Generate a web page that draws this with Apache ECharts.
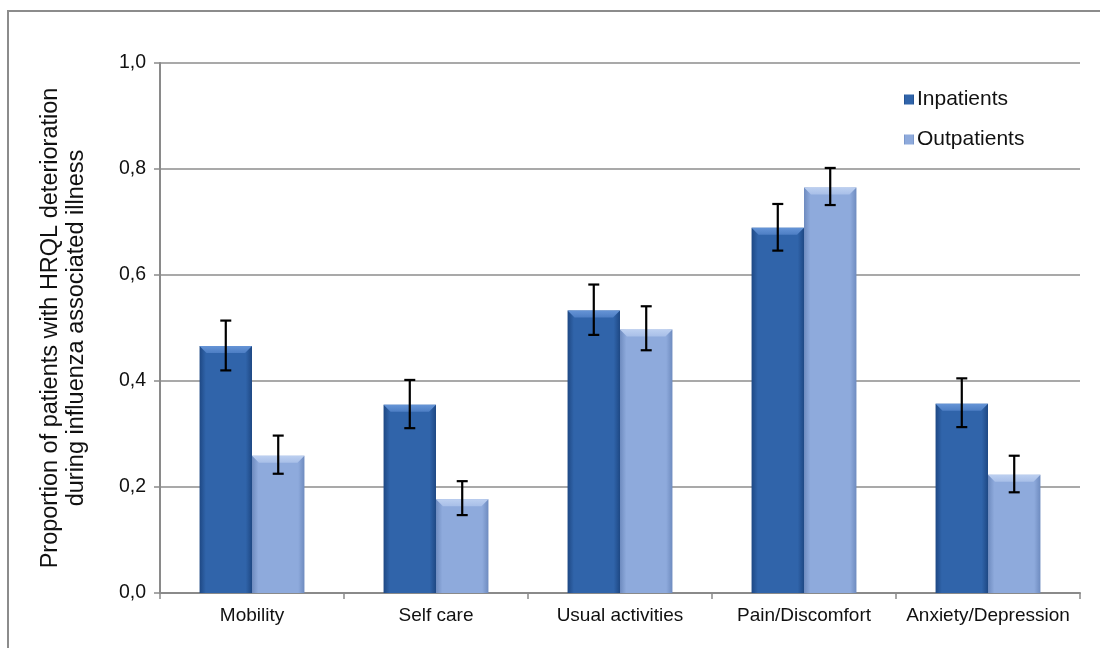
<!DOCTYPE html>
<html>
<head>
<meta charset="utf-8">
<script src="https://cdn.jsdelivr.net/npm/echarts@6/dist/echarts.min.js"></script>
<style>
  html, body { margin: 0; padding: 0; background: #fff; }
  #chart { width: 1100px; height: 648px; }
</style>
</head>
<body>
<div id="chart"></div>
<script>
// EQ-5D dimensions
const categories = ['Mobility', 'Self care', 'Usual activities', 'Pain/Discomfort', 'Anxiety/Depression'];

// Proportions with 95% confidence limits
const inpatients     = [0.466, 0.355, 0.533, 0.689, 0.357];
const inpatientsLow  = [0.420, 0.311, 0.487, 0.646, 0.313];
const inpatientsHigh = [0.514, 0.402, 0.582, 0.734, 0.405];

const outpatients     = [0.259, 0.177, 0.497, 0.765, 0.223];
const outpatientsLow  = [0.225, 0.147, 0.458, 0.732, 0.190];
const outpatientsHigh = [0.297, 0.211, 0.541, 0.802, 0.259];

const yTicks = [0, 0.2, 0.4, 0.6, 0.8, 1.0];

const FONT = '"Liberation Sans", Arial, sans-serif';
const BAR_FRAC = 0.285; // each bar's share of the category band

const palette = {
  Inpatients:  { edge: '#1e4884', mid: '#3064aa', light: '#6594d6', top: '#4d7ec4' },
  Outpatients: { edge: '#6e8bbf', mid: '#8eaadc', light: '#bccff0', top: '#a8bfe8' }
};

function barGradient(p) {
  return new echarts.graphic.LinearGradient(0, 0, 1, 0, [
    { offset: 0, color: p.edge },
    { offset: 0.12, color: p.mid },
    { offset: 0.88, color: p.mid },
    { offset: 1, color: p.edge }
  ]);
}

// Bevel on top of each bar plus its error bar
function overlayRenderer(values, lows, highs, side, p) {
  return function (params, api) {
    const i = api.value(0);
    const v = values[i];
    const centre = api.coord([i, 0]);
    const top = api.coord([i, v]);
    const band = api.size([1, 0])[0];
    const w = band * BAR_FRAC;
    const x0 = side < 0 ? centre[0] - w : centre[0];
    const x1 = x0 + w;
    const yTop = top[1];
    const b = 7;
    const lo = api.coord([i, lows[i]])[1];
    const hi = api.coord([i, highs[i]])[1];
    const xm = (x0 + x1) / 2;
    const cap = 5.5;
    const errStyle = { stroke: '#000', lineWidth: 2.2 };
    return {
      type: 'group',
      children: [
        {
          type: 'polygon',
          shape: { points: [[x0, yTop], [x1, yTop], [x1 - b, yTop + b], [x0 + b, yTop + b]] },
          style: {
            fill: new echarts.graphic.LinearGradient(0, 0, 0, 1, [
              { offset: 0, color: p.light },
              { offset: 1, color: p.top }
            ])
          }
        },
        { type: 'line', shape: { x1: xm, y1: hi, x2: xm, y2: lo }, style: errStyle },
        { type: 'line', shape: { x1: xm - cap, y1: hi, x2: xm + cap, y2: hi }, style: errStyle },
        { type: 'line', shape: { x1: xm - cap, y1: lo, x2: xm + cap, y2: lo }, style: errStyle }
      ]
    };
  };
}

const chart = echarts.init(document.getElementById('chart'), null, { renderer: 'canvas' });

chart.setOption({
  animation: false,
  backgroundColor: '#ffffff',
  graphic: [{
    type: 'rect',
    shape: { x: 8, y: 11, width: 1120, height: 680 },
    style: { fill: 'none', stroke: '#8c8c8c', lineWidth: 2 },
    silent: true
  }],
  grid: { left: 160, right: 20, top: 63, bottom: 55, containLabel: false },
  legend: {
    orient: 'vertical',
    left: 899,
    top: 84,
    itemGap: 19,
    itemWidth: 10,
    itemHeight: 10,
    icon: 'rect',
    textStyle: { fontFamily: FONT, fontSize: 21, color: '#111', padding: [0, 0, 0, -2] },
    data: ['Inpatients', 'Outpatients']
  },
  xAxis: {
    type: 'category',
    data: categories,
    axisLine: { lineStyle: { color: '#8a8a8a', width: 2 } },
    axisTick: { show: true, interval: 0, length: 6, alignWithLabel: false, lineStyle: { color: '#8a8a8a', width: 1.5 } },
    axisLabel: { interval: 0, hideOverlap: false, fontFamily: FONT, fontSize: 19, color: '#111', margin: 13 },
    splitLine: { show: false }
  },
  yAxis: {
    type: 'value',
    min: yTicks[0],
    max: yTicks[yTicks.length - 1],
    interval: 0.2,
    name: 'Proportion of patients with HRQL deterioration\nduring influenza associated illness',
    nameLocation: 'middle',
    nameRotate: 90,
    nameGap: 70,
    nameTextStyle: { fontFamily: FONT, fontSize: 23.5, color: '#111', lineHeight: 26 },
    axisLine: { show: true, lineStyle: { color: '#8a8a8a', width: 2 } },
    axisTick: { show: true, length: 6, inside: false, lineStyle: { color: '#8a8a8a', width: 1.5 } },
    axisLabel: {
      fontFamily: FONT, fontSize: 19.5, color: '#111', margin: 14,
      formatter: v => v.toFixed(1).replace('.', ',')
    },
    splitLine: { show: true, lineStyle: { color: '#8c8c8c', width: 1.5 } }
  },
  series: [
    {
      name: 'Inpatients',
      type: 'bar',
      data: inpatients,
      barWidth: (BAR_FRAC * 100) + '%',
      barGap: '0%',
      itemStyle: { color: barGradient(palette.Inpatients) }
    },
    {
      name: 'Outpatients',
      type: 'bar',
      data: outpatients,
      barWidth: (BAR_FRAC * 100) + '%',
      barGap: '0%',
      itemStyle: { color: barGradient(palette.Outpatients) }
    },
    {
      type: 'custom',
      renderItem: overlayRenderer(inpatients, inpatientsLow, inpatientsHigh, -1, palette.Inpatients),
      data: categories.map((c, i) => [i]),
      encode: { x: 0 },
      z: 5,
      silent: true
    },
    {
      type: 'custom',
      renderItem: overlayRenderer(outpatients, outpatientsLow, outpatientsHigh, 1, palette.Outpatients),
      data: categories.map((c, i) => [i]),
      encode: { x: 0 },
      z: 5,
      silent: true
    }
  ]
});
</script>
</body>
</html>
